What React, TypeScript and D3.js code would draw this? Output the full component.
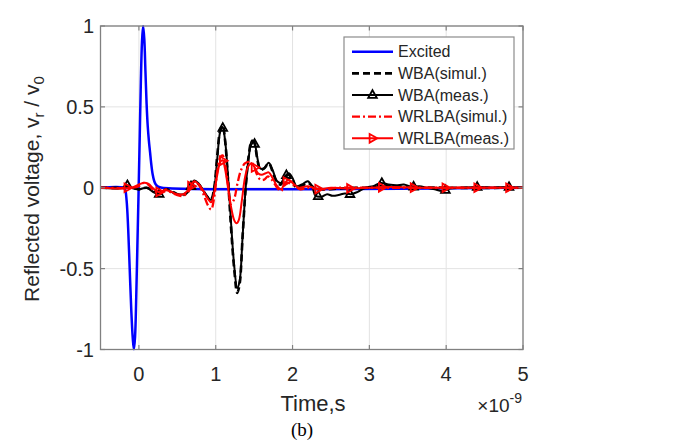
import React from 'react';
import * as d3 from 'd3';

type P = [number, number];

// Time axis in units of 1e-9 s
const X_TICKS = [0, 1, 2, 3, 4, 5];
const X_TICK_LABELS = ['0', '1', '2', '3', '4', '5'];
const Y_TICKS = [-1, -0.5, 0, 0.5, 1];
const Y_TICK_LABELS = ['-1', '-0.5', '0', '0.5', '1'];

const excited: P[] = [
  [-0.5, 0], [-0.2, 0], [-0.18, -0.01], [-0.16, -0.08], [-0.14, -0.25], [-0.12, -0.5], [-0.1, -0.75],
  [-0.08, -0.93], [-0.065, -1.0], [-0.05, -0.92], [-0.035, -0.68], [-0.02, -0.36], [-0.005, -0.04],
  [0.01, 0.3], [0.025, 0.65], [0.04, 0.9], [0.055, 1.0], [0.07, 0.92], [0.085, 0.72], [0.1, 0.52],
  [0.115, 0.38], [0.13, 0.29], [0.145, 0.22], [0.16, 0.15], [0.18, 0.08], [0.2, 0.04], [0.22, 0.02],
  [0.25, 0.007], [0.3, 0], [5, 0],
];

const wbaSimul: P[] = [
  [-0.5, 0], [-0.2, 0], [-0.1, 0.005], [0, -0.01], [0.1, 0.0], [0.2, -0.02], [0.28, -0.04], [0.35, -0.01],
  [0.42, -0.02], [0.5, -0.04], [0.58, -0.045], [0.65, -0.02], [0.72, 0.04], [0.78, 0.02], [0.84, -0.02],
  [0.9, -0.06], [0.94, -0.07], [0.98, 0.0], [1.02, 0.2], [1.06, 0.36], [1.09, 0.385], [1.12, 0.3],
  [1.16, 0.05], [1.2, -0.25], [1.24, -0.5], [1.28, -0.65], [1.31, -0.6], [1.35, -0.3], [1.39, 0.0],
  [1.43, 0.2], [1.47, 0.29], [1.5, 0.28], [1.54, 0.18], [1.58, 0.11], [1.63, 0.12], [1.69, 0.15],
  [1.74, 0.1], [1.8, 0.03], [1.85, 0.02], [1.9, 0.06], [1.95, 0.08], [2.0, 0.05], [2.05, 0.0],
  [2.12, 0.01], [2.2, 0.03], [2.28, 0.0], [2.4, -0.01], [2.6, -0.005], [2.8, 0.0], [3.0, 0.0],
  [3.2, 0.01], [3.5, 0.005], [4.0, 0.0], [5, 0],
];

const wbaMeas: P[] = [
  [-0.5, 0], [-0.2, 0.0], [-0.15, 0.015], [-0.1, 0.0], [0, -0.01], [0.1, 0.0], [0.2, -0.03], [0.28, -0.04],
  [0.35, -0.01], [0.42, -0.025], [0.5, -0.04], [0.58, -0.04], [0.65, -0.015], [0.72, 0.045], [0.78, 0.025],
  [0.84, -0.02], [0.9, -0.06], [0.94, -0.075], [0.98, -0.01], [1.02, 0.18], [1.06, 0.35], [1.09, 0.375],
  [1.12, 0.3], [1.16, 0.07], [1.2, -0.22], [1.24, -0.48], [1.28, -0.62], [1.31, -0.58], [1.35, -0.3],
  [1.39, 0.0], [1.43, 0.19], [1.47, 0.29], [1.5, 0.285], [1.54, 0.19], [1.58, 0.12], [1.63, 0.12],
  [1.69, 0.155], [1.74, 0.11], [1.8, 0.04], [1.85, 0.03], [1.9, 0.07], [1.95, 0.09], [2.0, 0.06],
  [2.05, 0.01], [2.12, 0.02], [2.2, 0.04], [2.26, 0.0], [2.3, -0.05], [2.38, -0.055], [2.45, -0.04],
  [2.52, -0.05], [2.6, -0.045], [2.68, -0.035], [2.76, -0.04], [2.85, -0.025], [2.95, 0.0], [3.05, 0.01],
  [3.15, 0.03], [3.25, 0.02], [3.35, 0.015], [3.45, 0.02], [3.55, 0.005], [3.65, 0.01], [3.75, 0.0],
  [3.85, -0.01], [3.95, -0.02], [4.05, -0.005], [4.2, 0.0], [4.4, 0.005], [4.6, 0.0], [4.8, 0.005], [5, 0],
];

const wrlbaSimul: P[] = [
  [-0.5, 0], [-0.1, 0], [0, 0.01], [0.06, 0.03], [0.12, 0.02], [0.2, -0.02], [0.28, -0.03], [0.35, -0.01],
  [0.42, -0.03], [0.5, -0.045], [0.58, -0.05], [0.65, -0.02], [0.72, 0.035], [0.78, 0.02], [0.84, -0.04],
  [0.9, -0.11], [0.94, -0.135], [0.98, -0.06], [1.02, 0.1], [1.06, 0.19], [1.09, 0.2], [1.12, 0.15],
  [1.16, 0.02], [1.2, -0.1], [1.24, -0.07], [1.28, 0.02], [1.33, 0.11], [1.38, 0.15], [1.43, 0.16],
  [1.48, 0.15], [1.53, 0.09], [1.58, 0.05], [1.63, 0.05], [1.68, 0.07], [1.73, 0.05], [1.8, 0.0],
  [1.85, -0.02], [1.92, 0.03], [2.0, 0.02], [2.1, -0.01], [2.2, 0.0], [2.4, -0.01], [2.6, 0.0],
  [3.0, 0.0], [5, 0],
];

const wrlbaMeas: P[] = [
  [-0.5, 0], [-0.1, 0], [0, 0.02], [0.06, 0.03], [0.12, 0.025], [0.2, -0.01], [0.28, -0.03], [0.35, -0.015],
  [0.42, -0.025], [0.5, -0.04], [0.58, -0.04], [0.65, -0.01], [0.72, 0.04], [0.78, 0.02], [0.84, -0.02],
  [0.9, -0.07], [0.94, -0.09], [0.98, -0.03], [1.02, 0.08], [1.06, 0.16], [1.09, 0.17], [1.12, 0.12],
  [1.16, 0.0], [1.2, -0.12], [1.24, -0.2], [1.27, -0.22], [1.3, -0.2], [1.34, -0.08], [1.38, 0.06],
  [1.42, 0.13], [1.46, 0.15], [1.5, 0.13], [1.55, 0.09], [1.6, 0.08], [1.65, 0.09], [1.69, 0.095],
  [1.74, 0.06], [1.8, 0.01], [1.85, -0.01], [1.9, 0.03], [1.95, 0.05], [2.0, 0.03], [2.08, 0.0],
  [2.2, 0.01], [2.35, -0.01], [2.5, 0.0], [2.7, -0.005], [3.0, 0.0], [3.3, 0.005], [3.6, 0.0],
  [4.0, 0.0], [5, 0],
];

// times at which the measured curves carry markers
const MARKER_T = [-0.15, 0.264, 0.678, 1.092, 1.506, 1.92, 2.334, 2.748, 3.162, 3.576, 3.99, 4.404, 4.818];

const LEGEND_NAMES = ['Excited', 'WBA(simul.)', 'WBA(meas.)', 'WRLBA(simul.)', 'WRLBA(meas.)'];

const W = 676;
const H = 441;
const PL = 100.5, PR = 523, PT = 26, PB = 349.5;
const FONT = '"Liberation Sans", Arial, Helvetica, sans-serif';
const TXT = '#262626';

function interp(series: P[], t: number): number {
  const i = d3.bisector((d: P) => d[0]).left(series, t);
  if (i <= 0) return series[0][1];
  if (i >= series.length) return series[series.length - 1][1];
  const a = series[i - 1], b = series[i];
  const f = (t - a[0]) / (b[0] - a[0]);
  return a[1] + f * (b[1] - a[1]);
}

const triUp = (s: number) => `M0,${-s}L${s * 0.9},${s * 0.6}L${-s * 0.9},${s * 0.6}Z`;
const triRight = (s: number) => `M${s},0L${-s * 0.6},${-s * 0.9}L${-s * 0.6},${s * 0.9}Z`;

export default function App() {
  const x = d3.scaleLinear().domain([-0.5, 5]).range([PL, PR]);
  const y = d3.scaleLinear().domain([-1, 1]).range([PB, PT]);
  const line = d3
    .line<P>()
    .x((d) => x(d[0]))
    .y((d) => y(d[1]))
    .curve(d3.curveCatmullRom.alpha(0.5));

  const series = [
    { data: excited, color: '#0000ff', dash: undefined as string | undefined, width: 2.5, marker: null as null | 'up' | 'right' },
    { data: wbaSimul, color: '#000000', dash: '7,4', width: 2.6, marker: null },
    { data: wbaMeas, color: '#000000', dash: undefined, width: 2, marker: 'up' },
    { data: wrlbaSimul, color: '#ff0000', dash: '8,3,2,3', width: 2.3, marker: null },
    { data: wrlbaMeas, color: '#ff0000', dash: undefined, width: 2, marker: 'right' },
  ];

  const tickLen = 4.5;
  const legX = 344, legY = 37, legW = 170, legH = 112;
  const rowY = (i: number) => 51.7 + i * 21.65;

  return (
    <svg
      width={W}
      height={H}
      viewBox={`0 0 ${W} ${H}`}
      style={{ position: 'absolute', left: 0, top: 0, background: '#fff' }}
    >
      <rect x={0} y={0} width={W} height={H} fill="#fff" />
      <defs>
        <clipPath id="plotclip">
          <rect x={PL} y={PT - 1} width={PR - PL} height={PB - PT + 2} />
        </clipPath>
      </defs>
      {/* grid */}
      <g stroke="#e3e3e3" strokeWidth={1}>
        {X_TICKS.map((t) => (
          <line key={'gx' + t} x1={x(t)} x2={x(t)} y1={PT} y2={PB} />
        ))}
        {Y_TICKS.map((t) => (
          <line key={'gy' + t} x1={PL} x2={PR} y1={y(t)} y2={y(t)} />
        ))}
      </g>
      {/* series */}
      <g clipPath="url(#plotclip)" fill="none">
        {series.map((s, i) => (
          <g key={'s' + i}>
            <path
              d={line(s.data) || ''}
              stroke={s.color}
              strokeWidth={s.width}
              strokeDasharray={s.dash}
              strokeLinejoin="round"
            />
            {s.marker &&
              MARKER_T.map((t, k) => (
                <path
                  key={'m' + k}
                  transform={`translate(${x(t)},${y(interp(s.data, t))})`}
                  d={s.marker === 'up' ? triUp(4.8) : triRight(4.8)}
                  stroke={s.color}
                  strokeWidth={1.8}
                  fill="none"
                />
              ))}
          </g>
        ))}
      </g>
      {/* axes box */}
      <rect x={PL} y={PT} width={PR - PL} height={PB - PT} fill="none" stroke="#808080" strokeWidth={1.3} />
      <g stroke="#808080" strokeWidth={1.2}>
        {X_TICKS.map((t) => (
          <g key={'tx' + t}>
            <line x1={x(t)} x2={x(t)} y1={PB} y2={PB - tickLen} />
            <line x1={x(t)} x2={x(t)} y1={PT} y2={PT + tickLen} />
          </g>
        ))}
        {Y_TICKS.map((t) => (
          <g key={'ty' + t}>
            <line x1={PL} x2={PL + tickLen} y1={y(t)} y2={y(t)} />
            <line x1={PR} x2={PR - tickLen} y1={y(t)} y2={y(t)} />
          </g>
        ))}
      </g>
      {/* tick labels */}
      <g fontFamily={FONT} fontSize={20} fill={TXT}>
        {X_TICKS.map((t, i) => (
          <text key={'lx' + t} x={x(t)} y={381} textAnchor="middle">
            {X_TICK_LABELS[i]}
          </text>
        ))}
        {Y_TICKS.map((t, i) => (
          <text key={'ly' + t} x={94} y={y(t) + 7} textAnchor="end">
            {Y_TICK_LABELS[i]}
          </text>
        ))}
      </g>
      {/* axis labels */}
      <text x={313} y={411} textAnchor="middle" fontFamily={FONT} fontSize={22} fill={TXT}>
        Time,s
      </text>
      <text x={522} y={412} textAnchor="end" fontFamily={FONT} fontSize={19} fill={TXT}>
        ×10
        <tspan dy={-9} fontSize={14}>
          -9
        </tspan>
      </text>
      <text
        transform={`translate(39,189) rotate(-90)`}
        textAnchor="middle"
        fontFamily={FONT}
        fontSize={21}
        fill={TXT}
      >
        Reflected voltage, v
        <tspan dy={5} fontSize={15}>
          r
        </tspan>
        <tspan dy={-5}> / v</tspan>
        <tspan dy={5} fontSize={15}>
          0
        </tspan>
      </text>
      <text x={302} y={436} textAnchor="middle" fontFamily='"Liberation Serif", "Times New Roman", serif' fontSize={19} fill="#000">
        (b)
      </text>
      {/* legend */}
      <g>
        <rect x={legX} y={legY} width={legW} height={legH} fill="#fff" stroke="#8c8c8c" strokeWidth={1.2} />
        {LEGEND_NAMES.map((name, i) => {
          const s = series[i];
          const yy = rowY(i);
          return (
            <g key={'leg' + i}>
              <line
                x1={352}
                x2={393}
                y1={yy}
                y2={yy}
                stroke={s.color}
                strokeWidth={s.width}
                strokeDasharray={s.dash}
              />
              {s.marker && (
                <path
                  transform={`translate(372.5,${yy})`}
                  d={s.marker === 'up' ? triUp(4.8) : triRight(4.8)}
                  stroke={s.color}
                  strokeWidth={1.8}
                  fill="none"
                />
              )}
              <text x={398} y={yy + 5.5} fontFamily={FONT} fontSize={16} fill={TXT}>
                {name}
              </text>
            </g>
          );
        })}
      </g>
    </svg>
  );
}
